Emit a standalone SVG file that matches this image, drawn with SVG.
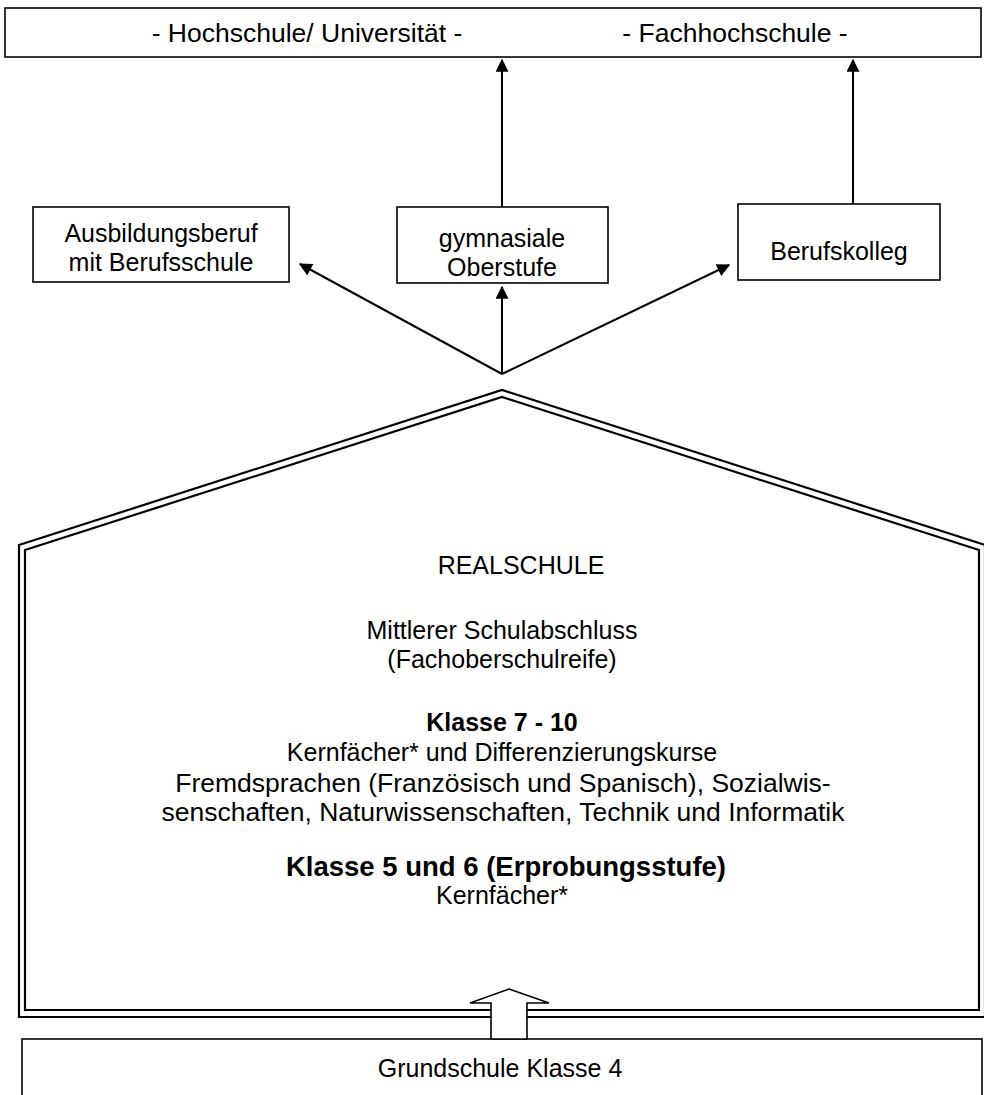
<svg xmlns="http://www.w3.org/2000/svg" width="984" height="1095" viewBox="0 0 984 1095">
<defs>
<style>
text{font-family:"Liberation Sans",Arial,sans-serif;font-size:25px;fill:#000;text-anchor:middle}
.b{font-weight:bold}
.h{font-size:26.5px}
.w{font-size:26.5px}
.box{fill:#fff;stroke:#000;stroke-width:1.6}
.con{stroke:#000;stroke-width:2;fill:none}
.wall{fill:none;stroke:#000;stroke-width:2.2;stroke-linejoin:miter}
</style>
<marker id="ah" viewBox="0 0 10 10" refX="9" refY="5" markerWidth="15" markerHeight="13" markerUnits="userSpaceOnUse" orient="auto">
<path d="M0,0 L10,5 L0,10 z" fill="#000"/>
</marker>
</defs>
<rect width="984" height="1095" fill="#fff"/>

<g id="hochschule">
<rect class="box" x="5" y="8" width="976" height="49"/>
<text class="h" x="307" y="42">- Hochschule/ Universität -</text>
<text class="h" x="735" y="42">- Fachhochschule -</text>
</g>

<g id="ausbildungsberuf">
<rect class="box" x="33" y="207" width="256" height="75"/>
<text x="161" y="242">Ausbildungsberuf</text>
<text x="161" y="271">mit Berufsschule</text>
</g>

<g id="gymnasiale-oberstufe">
<rect class="box" x="397" y="207" width="211" height="76"/>
<text x="502" y="247">gymnasiale</text>
<text x="502" y="276">Oberstufe</text>
</g>

<g id="berufskolleg">
<rect class="box" x="738" y="204" width="202" height="76"/>
<text x="839" y="260">Berufskolleg</text>
</g>

<g id="realschule">
<polygon class="wall" points="19,545 502,390 985,545 985,1017 19,1017"/>
<polygon class="wall" points="25,550 502,397 979,550 979,1010 25,1010"/>
<text x="521" y="574">REALSCHULE</text>
<text x="502" y="639">Mittlerer Schulabschluss</text>
<text x="502" y="668">(Fachoberschulreife)</text>
<text class="b" x="502" y="731">Klasse 7 - 10</text>
<text x="502" y="761">Kernfächer* und Differenzierungskurse</text>
<text class="w" x="503" y="792">Fremdsprachen (Französisch und Spanisch), Sozialwis-</text>
<text class="w" x="503" y="821">senschaften, Naturwissenschaften, Technik und Informatik</text>
<text class="b" x="506" y="876" style="font-size:27.5px">Klasse 5 und 6 (Erprobungsstufe)</text>
<text x="502" y="904">Kernfächer*</text>
</g>

<g id="grundschule">
<rect class="box" x="22" y="1039" width="960" height="70"/>
<text x="500" y="1077">Grundschule Klasse 4</text>
</g>

<g id="connectors">
<line class="con" x1="502" y1="374" x2="300" y2="264" marker-end="url(#ah)"/>
<line class="con" x1="502" y1="374" x2="502" y2="287" marker-end="url(#ah)"/>
<line class="con" x1="502" y1="374" x2="729" y2="265" marker-end="url(#ah)"/>
<line class="con" x1="502" y1="207" x2="502" y2="60" marker-end="url(#ah)"/>
<line class="con" x1="853" y1="204" x2="853" y2="60" marker-end="url(#ah)"/>
<polygon points="509,989 549,1003 527,1003 527,1039 491,1039 491,1003 470,1003" fill="#fff" stroke="#000" stroke-width="1.6" stroke-linejoin="miter"/>
</g>
</svg>
